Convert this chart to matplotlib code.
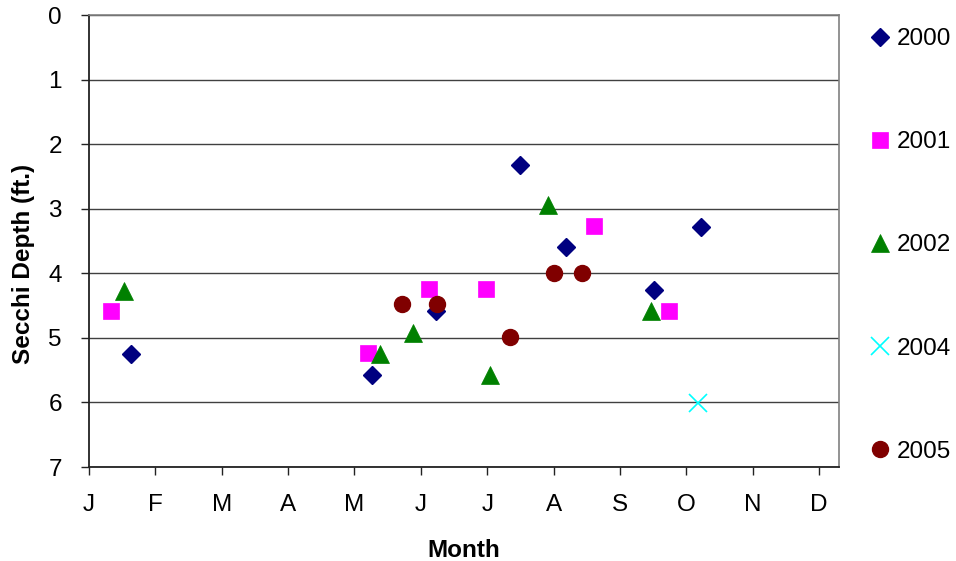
import matplotlib
matplotlib.use("Agg")
import matplotlib.pyplot as plt

plt.rcParams['font.family'] = ['Liberation Sans', 'DejaVu Sans']

# Data: x in months from Jan 1 (0 = J), y = Secchi depth (ft.)
months = ['J', 'F', 'M', 'A', 'M', 'J', 'J', 'A', 'S', 'O', 'N', 'D']

x2000 = [0.64, 4.26, 5.23, 6.49, 7.18, 8.51, 9.22]
y2000 = [5.25, 5.58, 4.59, 2.32, 3.60, 4.26, 3.28]

x2001 = [0.33, 4.21, 5.12, 5.98, 7.61, 8.74]
y2001 = [4.58, 5.24, 4.25, 4.25, 3.27, 4.58]

x2002 = [0.52, 4.39, 4.88, 6.04, 6.91, 8.46]
y2002 = [4.27, 5.25, 4.92, 5.58, 2.95, 4.59]

x2004 = [9.17]
y2004 = [6.01]

x2005 = [4.72, 5.24, 6.35, 7.01, 7.43]
y2005 = [4.48, 4.48, 4.99, 4.00, 4.00]

fs = 17.5

fig = plt.figure(figsize=(9.56, 5.61), dpi=100)
ax = fig.add_axes([89/956, 1-467/561, 750/956, 452/561])

ax.plot(x2000, y2000, linestyle='none', marker='D', ms=9, color='#000080', mec='#000080', label='2000')
ax.plot(x2001, y2001, linestyle='none', marker='s', ms=11.5, color='#FF00FF', mec='#FF00FF', mew=0.5, label='2001')
ax.plot(x2002, y2002, linestyle='none', marker='^', ms=13, color='#008000', mec='#008000', mew=0.5, label='2002')
ax.plot(x2004, y2004, linestyle='none', marker='x', ms=12.5, color='#00FFFF', mew=1.2, label='2004')
ax.plot(x2005, y2005, linestyle='none', marker='o', ms=11.5, color='#800000', mec='#800000', label='2005')

ax.set_xlim(0, 11.3)
ax.set_ylim(7, 0)
ax.set_xticks(range(12))
ax.set_xticklabels(months)
ax.set_yticks(range(8))

ax.yaxis.grid(True, color='#404040', lw=1)
ax.set_axisbelow(True)
for s in ['top', 'right']:
    ax.spines[s].set_color('#808080')
    ax.spines[s].set_linewidth(1.2)
for s in ['left', 'bottom']:
    ax.spines[s].set_color('#222222')
    ax.spines[s].set_linewidth(1.3)

ax.tick_params(axis='both', direction='out', length=6, width=1, color='#222222', labelsize=fs)
ax.tick_params(axis='x', pad=13.5)
ax.tick_params(axis='y', pad=13.5)

ax.set_ylabel('Secchi Depth (ft.)', fontsize=fs, fontweight='bold', va='center')
ax.yaxis.set_label_coords(-0.087, 0.45)
ax.set_xlabel('Month', fontsize=fs, fontweight='bold', va='center')
ax.xaxis.set_label_coords(0.5, -0.184)

fig.legend(loc='upper left', bbox_to_anchor=(870/956, 1-28/561), bbox_transform=fig.transFigure,
           frameon=False, fontsize=fs, numpoints=1, borderpad=0, borderaxespad=0,
           handlelength=0.8, handletextpad=0.3, labelspacing=3.34)

fig.savefig('out.png', dpi=100)
